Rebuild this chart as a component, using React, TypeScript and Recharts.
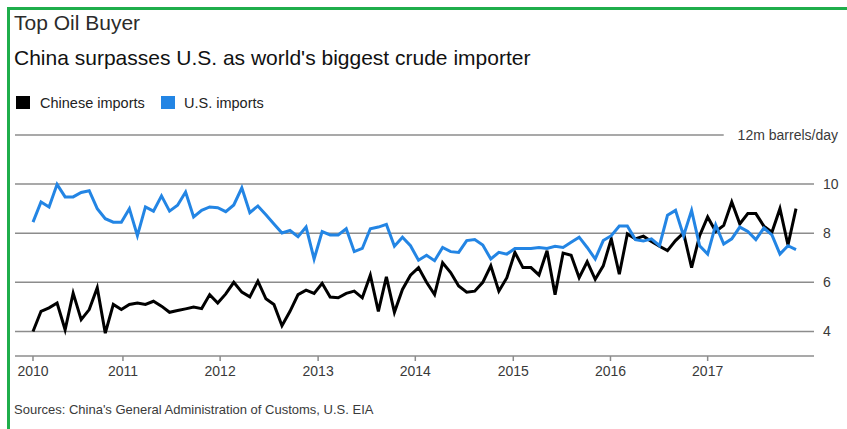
import { LineChart, Line, XAxis, YAxis, ReferenceLine } from "recharts";

// monthly, Jan 2010 - Dec 2017, million barrels/day
const YEARS = ["2010", "2011", "2012", "2013", "2014", "2015", "2016", "2017"];
// where each year label sits, in months from Jan 2010
const YEAR_TICK_MONTHS = [0, 11.2, 23.3, 35.5, 47.6, 59.8, 71.9, 84];

const CHINESE_IMPORTS = [
  4.0, 4.82, 4.96, 5.16, 4.07, 5.56, 4.48, 4.89, 5.78, 3.93, 5.1, 4.89,
  5.1, 5.16, 5.1, 5.23, 5.03, 4.78, 4.85, 4.92, 4.99, 4.93, 5.5, 5.16,
  5.53, 6.0, 5.6, 5.41, 6.05, 5.33, 5.1, 4.23, 4.82, 5.5, 5.68, 5.55,
  5.96, 5.4, 5.37, 5.55, 5.64, 5.37, 6.29, 4.82, 6.22, 4.78, 5.71, 6.29,
  6.6, 6.0, 5.5, 6.8, 6.4, 5.85, 5.6, 5.64, 6.0, 6.67, 5.64, 6.19,
  7.22, 6.6, 6.6, 6.3, 7.29, 5.5, 7.19, 7.1, 6.19, 6.84, 6.12, 6.67,
  7.77, 6.33, 7.97, 7.77, 7.88, 7.66, 7.47, 7.29, 7.7, 8.01, 6.6, 7.9,
  8.66, 8.07, 8.32, 9.27, 8.38, 8.8, 8.8, 8.29, 8.04, 9.0, 7.52, 9.0,
];

const US_IMPORTS = [
  8.45, 9.27, 9.07, 9.99, 9.48, 9.48, 9.66, 9.73, 9.0, 8.59, 8.45, 8.45,
  9.0, 7.9, 9.07, 8.9, 9.52, 8.9, 9.14, 9.68, 8.66, 8.93, 9.07, 9.04,
  8.88, 9.15, 9.85, 8.84, 9.11, 8.75, 8.38, 8.01, 8.11, 7.86, 8.25, 6.95,
  8.07, 7.93, 7.93, 8.18, 7.25, 7.38, 8.18, 8.25, 8.36, 7.47, 7.84, 7.49,
  6.9, 7.1, 6.88, 7.42, 7.25, 7.22, 7.7, 7.74, 7.52, 6.95, 7.22, 7.15,
  7.38, 7.38, 7.38, 7.42, 7.38, 7.47, 7.42, 7.63, 7.84, 7.42, 6.95, 7.7,
  7.9, 8.29, 8.29, 7.74, 7.68, 7.77, 7.49, 8.73, 8.93, 7.9, 8.93, 7.49,
  7.15, 8.34, 7.56, 7.77, 8.25, 8.07, 7.74, 8.21, 7.93, 7.15, 7.49, 7.33,
];

const GRID_VALUES = [4, 6, 8, 10];
const VALUE_TICKS = [4, 6, 8, 10, 12];

const data = CHINESE_IMPORTS.map((v, i) => ({
  month: i,
  china: v,
  us: US_IMPORTS[i],
}));

const FONT = "'Liberation Sans', Arial, sans-serif";
const GRID = "#8c8c8c";
const BLUE = "#2385e4";
// the 12m line stops short of the unit label
const TOP_LINE_END = 86;

const YearTick = (props: any) => {
  const { x, y, payload } = props;
  const idx = YEAR_TICK_MONTHS.indexOf(payload.value);
  return (
    <text x={x} y={y} dy={15} textAnchor="middle" fontSize={14} fill="#3a3a3a" fontFamily={FONT}>
      {YEARS[idx]}
    </text>
  );
};

const ValueTick = (props: any) => {
  const { x, y, payload } = props;
  if (payload.value === 12) {
    return (
      <text x={x + 15} y={y} dy={5} textAnchor="end" fontSize={14} fill="#3a3a3a" fontFamily={FONT}>
        12m barrels/day
      </text>
    );
  }
  return (
    <text x={x} y={y} dy={5} textAnchor="start" fontSize={14} fill="#3a3a3a" fontFamily={FONT}>
      {payload.value}
    </text>
  );
};

export default function App() {
  return (
    <div
      style={{
        position: "absolute",
        left: 0,
        top: 0,
        width: 847,
        height: 429,
        background: "#fff",
        overflow: "hidden",
        fontFamily: FONT,
      }}
    >
      <LineChart
        width={847}
        height={429}
        data={data}
        margin={{ top: 135, right: 3, left: 15, bottom: 43 }}
      >
        {GRID_VALUES.map((v) => (
          <ReferenceLine key={v} y={v} stroke={GRID} strokeWidth={1.5} />
        ))}
        <ReferenceLine
          segment={[
            { x: -2.24, y: 12 },
            { x: TOP_LINE_END, y: 12 },
          ]}
          stroke={GRID}
          strokeWidth={1.5}
        />
        <XAxis
          dataKey="month"
          type="number"
          domain={[-2.24, 97.24]}
          ticks={YEAR_TICK_MONTHS}
          height={30}
          tick={<YearTick />}
          tickSize={5}
          tickMargin={0}
          tickLine={{ stroke: GRID, strokeWidth: 1.5 }}
          axisLine={{ stroke: GRID, strokeWidth: 1.5 }}
          interval={0}
        />
        <YAxis
          orientation="right"
          type="number"
          domain={[3, 12]}
          ticks={VALUE_TICKS}
          width={30}
          axisLine={false}
          tickLine={false}
          tickSize={0}
          tickMargin={9}
          tick={<ValueTick />}
          interval={0}
        />
        <Line
          type="linear"
          dataKey="china"
          stroke="#000"
          strokeWidth={3}
          dot={false}
          isAnimationActive={false}
        />
        <Line
          type="linear"
          dataKey="us"
          stroke={BLUE}
          strokeWidth={3}
          dot={false}
          isAnimationActive={false}
        />
      </LineChart>

      <svg
        width={847}
        height={429}
        style={{ position: "absolute", left: 0, top: 0, pointerEvents: "none" }}
      >
        <text x={14} y={30} fontSize={21} fill="#2b2b2b" fontFamily={FONT}>
          Top Oil Buyer
        </text>
        <text x={14} y={65} fontSize={21} fill="#111" fontFamily={FONT}>
          China surpasses U.S. as world's biggest crude importer
        </text>
        <rect x={16} y={96} width={14} height={13} fill="#000" />
        <text x={40} y={108} fontSize={14.5} fill="#222" fontFamily={FONT}>
          Chinese imports
        </text>
        <rect x={161} y={96} width={14} height={13} fill={BLUE} />
        <text x={184} y={108} fontSize={14.5} fill="#222" fontFamily={FONT}>
          U.S. imports
        </text>
        <text x={14} y={414} fontSize={13} fill="#3a3a3a" fontFamily={FONT}>
          Sources: China's General Administration of Customs, U.S. EIA
        </text>
        <line x1={8.5} y1={7} x2={8.5} y2={429} stroke="#1fae4b" strokeWidth={3} />
        <line x1={7} y1={8.5} x2={847} y2={8.5} stroke="#1fae4b" strokeWidth={3} />
      </svg>
    </div>
  );
}
